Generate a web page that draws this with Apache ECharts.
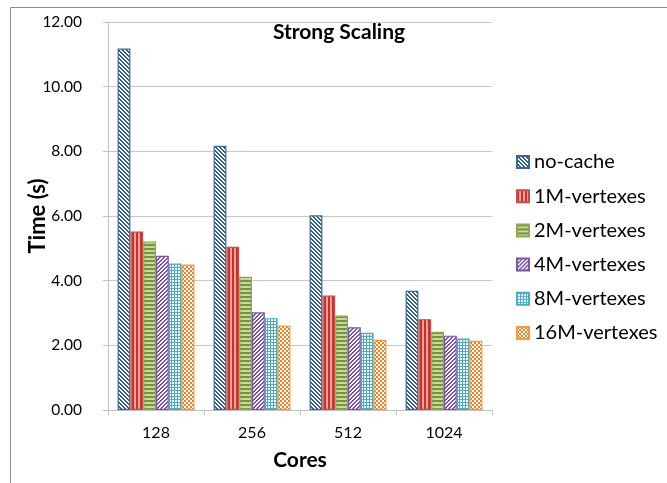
<!DOCTYPE html>
<html><head><meta charset="utf-8">
<script src="https://cdn.jsdelivr.net/npm/echarts@6/dist/echarts.min.js"></script>
<style>html,body{margin:0;padding:0;background:#fff}#c{width:667px;height:483px}</style>
</head><body><div id="c"></div>
<script>
const categories = ['128', '256', '512', '1024'];
const seriesNames = ['no-cache', '1M-vertexes', '2M-vertexes', '4M-vertexes', '8M-vertexes', '16M-vertexes'];
const noCache = [11.18, 8.17, 6.02, 3.69];
const v1M = [5.52, 5.05, 3.54, 2.81];
const v2M = [5.21, 4.12, 2.92, 2.42];
const v4M = [4.77, 3.02, 2.56, 2.30];
const v8M = [4.53, 2.84, 2.39, 2.21];
const v16M = [4.50, 2.61, 2.17, 2.14];
const yTicks = ['0.00', '2.00', '4.00', '6.00', '8.00', '10.00', '12.00'];

function pat(size, bg, fg, fn) {
  const c = document.createElement('canvas');
  c.width = size; c.height = size;
  const g = c.getContext('2d');
  g.fillStyle = bg; g.fillRect(0, 0, size, size);
  g.fillStyle = fg;
  for (let y = 0; y < size; y++) for (let x = 0; x < size; x++) if (fn(x, y)) g.fillRect(x, y, 1, 1);
  return { image: c, repeat: 'repeat' };
}
const patterns = [
  pat(4, '#ffffff', '#2F5D8C', (x, y) => ((x - y + 8) % 4) < 2),
  pat(4, '#E9A59D', '#C9302A', (x, y) => x % 4 < 2),
  pat(4, '#C6D8A0', '#76933C', (x, y) => y % 4 < 2),
  pat(4, '#ffffff', '#7E4FB0', (x, y) => ((x + y) % 4) < 2),
  pat(3, '#ffffff', '#4BACC6', (x, y) => x % 3 === 0 || y % 3 === 0),
  pat(4, '#ffffff', '#F2801E', (x, y) => ((Math.floor(x / 2) + Math.floor(y / 2)) % 2) === 0)
];
const borders = ['#3B6896', '#C0504D', '#8AAA4E', '#7A55A8', '#4BACC6', '#F79646'];
const dataArr = [noCache, v1M, v2M, v4M, v8M, v16M];

const font = 'Lato, "Open Sans", sans-serif';
const chart = echarts.init(document.getElementById('c'));
chart.setOption({
  animation: false,
  backgroundColor: '#fff',
  title: {
    text: 'Strong Scaling', left: 334, top: 17, textAlign: 'center',
    textStyle: { fontFamily: font, fontWeight: 'bold', fontSize: 21, color: '#000' }
  },
  graphic: [{
    type: 'rect', shape: { x: 10.5, y: 7.5, width: 700, height: 500 },
    style: { fill: 'none', stroke: '#8c8c8c', lineWidth: 1 }, silent: true, z: -1
  }],
  legend: {
    orient: 'vertical', left: 511, top: 147, itemGap: 14.2,
    itemWidth: 12, itemHeight: 12, icon: 'rect',
    textStyle: { fontFamily: font, fontSize: 20, color: '#000' },
    data: seriesNames
  },
  grid: { left: 108, right: 175, top: 22, bottom: 73, containLabel: false },
  xAxis: {
    type: 'category', data: categories,
    name: 'Cores', nameLocation: 'middle', nameGap: 40,
    nameTextStyle: { fontFamily: font, fontWeight: 'bold', fontSize: 21, color: '#000' },
    axisLine: { lineStyle: { color: '#bfbfbf' } },
    axisTick: { show: true, length: 5, lineStyle: { color: '#bfbfbf' } },
    axisLabel: { fontFamily: font, fontSize: 16, color: '#000', margin: 15 }
  },
  yAxis: {
    type: 'value', min: 0, max: 12, interval: 2,
    name: 'Time (s)', nameLocation: 'middle', nameGap: 59, nameRotate: 90,
    nameMoveOverlap: false,
    nameTextStyle: { fontFamily: font, fontWeight: 'bold', fontSize: 22, color: '#000' },
    axisLine: { show: true, lineStyle: { color: '#bfbfbf' } },
    axisTick: { show: true, length: 5, lineStyle: { color: '#bfbfbf' } },
    splitLine: { lineStyle: { color: '#c8c8c8' } },
    axisLabel: { fontFamily: font, fontSize: 15.5, color: '#000', margin: 26,
      formatter: (v) => yTicks[Math.round(v / 2)] }
  },
  series: seriesNames.map((n, i) => ({
    name: n, type: 'bar', data: dataArr[i],
    barGap: '0%', barCategoryGap: '20%',
    itemStyle: { color: patterns[i], borderColor: borders[i], borderWidth: 1.2 }
  }))
});
</script></body></html>
